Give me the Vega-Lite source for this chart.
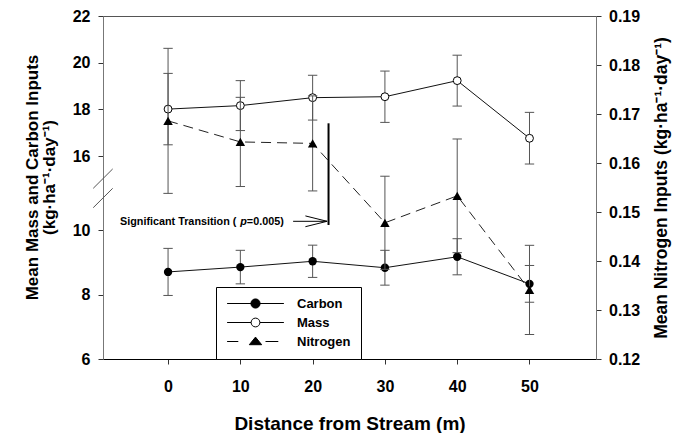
{
"$schema":"https://vega.github.io/schema/vega-lite/v6.json",
"width":493,"height":343,
"autosize":{"type":"none"},
"padding":{"left":103,"top":16,"right":90,"bottom":74},
"background":"white",
"config":{"font":"Liberation Sans","view":{"stroke":"#555","strokeWidth":1},"axis":{"grid":false}},
"datasets":{
 "inputs":[
  {"series":"Carbon","x":0,"y":8.70,"lo":7.97,"hi":9.43},
  {"series":"Carbon","x":10,"y":8.85,"lo":8.33,"hi":9.37},
  {"series":"Carbon","x":20,"y":9.03,"lo":8.53,"hi":9.53},
  {"series":"Carbon","x":30,"y":8.83,"lo":8.29,"hi":9.37},
  {"series":"Carbon","x":40,"y":9.17,"lo":8.61,"hi":9.73},
  {"series":"Carbon","x":50,"y":8.33,"lo":7.76,"hi":8.90},
  {"series":"Mass","x":0,"y":18.01,"lo":16.48,"hi":19.54},
  {"series":"Mass","x":10,"y":18.16,"lo":17.09,"hi":19.23},
  {"series":"Mass","x":20,"y":18.50,"lo":17.54,"hi":19.46},
  {"series":"Mass","x":30,"y":18.54,"lo":17.44,"hi":19.64},
  {"series":"Mass","x":40,"y":19.23,"lo":18.14,"hi":20.32},
  {"series":"Mass","x":50,"y":16.76,"lo":15.35,"hi":17.87},
  {"series":"Nitrogen","x":0,"y":0.1686,"lo":0.1538,"hi":0.1834},
  {"series":"Nitrogen","x":10,"y":0.1643,"lo":0.1552,"hi":0.1734},
  {"series":"Nitrogen","x":20,"y":0.1640,"lo":0.1543,"hi":0.1737},
  {"series":"Nitrogen","x":30,"y":0.1478,"lo":0.1383,"hi":0.1573},
  {"series":"Nitrogen","x":40,"y":0.1533,"lo":0.1417,"hi":0.1649},
  {"series":"Nitrogen","x":50,"y":0.1341,"lo":0.1250,"hi":0.1432}
 ],
 "breaks":[{"x":-10.35,"y":13.38,"x2":-7.66,"y2":14.95},{"x":-10.35,"y":11.81,"x2":-7.66,"y2":13.38}],
 "transition":[{"x":22.2,"y":0.1681,"y2":0.14735}],
 "arrow":[{"x":17.3,"y":0.1481,"x2":22.0,"y2":0.1481},{"x":19.0,"y":0.1492,"x2":22.0,"y2":0.1481},{"x":19.0,"y":0.1470,"x2":22.0,"y2":0.1481}],
 "note":[{"text":"Significant Transition (","x":-6.65,"y":0.1480},{"text":"=0.005)","x":10.9,"y":0.1480}],
 "noteItalic":[{"text":"p","x":9.97,"y":0.1480}]
},
"encoding":{"x":{"field":"x","type":"quantitative","scale":{"domain":[-9,59.2],"nice":false,"zero":false},
  "axis":{"values":[0,10,20,30,40,50],"title":"Distance from Stream (m)","titleFontSize":19,"titleFontWeight":"bold","titleColor":"black","titleBaseline":"middle","titleY":64,"labelFontSize":16,"labelFontWeight":"bold","labelColor":"black","labelPadding":14,"tickSize":5,"tickColor":"#333","domainColor":"black","labelFlush":false}}},
"layer":[
 {
  "data":{"name":"inputs"},
  "transform":[{"filter":"datum.series !== 'Nitrogen'"}],
  "layer":[
   {"data":{"name":"breaks"},"mark":{"type":"rule","color":"#555","strokeWidth":1},
    "encoding":{"x2":{"field":"x2"},"y":{"field":"y","type":"quantitative","scale":{"domain":[6,10,16,22],"range":[343,214,140,0],"nice":false,"zero":false},
      "axis":{"values":[6,8,10,16,18,20,22],"title":["Mean Mass and Carbon Inputs","(kg·ha⁻¹·day⁻¹)"],"titleFontSize":17,"titleFontWeight":"bold","titleColor":"black","titleLineHeight":17,"titleAngle":270,"titleBaseline":"middle","titleX":-70.5,"titleY":161,"labelFontSize":16,"labelFontWeight":"bold","labelColor":"black","labelPadding":8,"tickSize":5,"tickColor":"#333","domainColor":"#777"}},"y2":{"field":"y2"}}},
   {"mark":{"type":"rule","color":"#555","strokeWidth":1},
    "encoding":{"y":{"field":"lo","type":"quantitative","scale":{"domain":[6,10,16,22],"range":[343,214,140,0],"nice":false,"zero":false},
      "axis":{"values":[6,8,10,16,18,20,22],"title":["Mean Mass and Carbon Inputs","(kg·ha⁻¹·day⁻¹)"],"titleFontSize":17,"titleFontWeight":"bold","titleColor":"black","titleLineHeight":17,"titleAngle":270,"titleBaseline":"middle","titleX":-70.5,"titleY":161,"labelFontSize":16,"labelFontWeight":"bold","labelColor":"black","labelPadding":8,"tickSize":5,"tickColor":"#333","domainColor":"#777"}},
     "y2":{"field":"hi"}}},
   {"mark":{"type":"point","shape":"stroke","size":88,"color":"#555","strokeWidth":1,"opacity":1},
    "encoding":{"y":{"field":"lo","type":"quantitative","scale":{"domain":[6,10,16,22],"range":[343,214,140,0],"nice":false,"zero":false}}}},
   {"mark":{"type":"point","shape":"stroke","size":88,"color":"#555","strokeWidth":1,"opacity":1},
    "encoding":{"y":{"field":"hi","type":"quantitative","scale":{"domain":[6,10,16,22],"range":[343,214,140,0],"nice":false,"zero":false}}}},
   {"mark":{"type":"line","color":"#111","strokeWidth":1},
    "encoding":{"y":{"field":"y","type":"quantitative","scale":{"domain":[6,10,16,22],"range":[343,214,140,0],"nice":false,"zero":false}},"detail":{"field":"series"}}},
   {"transform":[{"filter":"datum.series === 'Carbon'"}],
    "mark":{"type":"point","shape":"circle","filled":true,"color":"black","size":70,"opacity":1},
    "encoding":{"y":{"field":"y","type":"quantitative","scale":{"domain":[6,10,16,22],"range":[343,214,140,0],"nice":false,"zero":false}}}},
   {"transform":[{"filter":"datum.series === 'Mass'"}],
    "mark":{"type":"point","shape":"circle","filled":true,"fill":"white","stroke":"black","strokeWidth":1,"size":62,"opacity":1},
    "encoding":{"y":{"field":"y","type":"quantitative","scale":{"domain":[6,10,16,22],"range":[343,214,140,0],"nice":false,"zero":false}}}},
   {"mark":{"type":"point","filled":true,"stroke":"black","strokeWidth":1,"size":64,"opacity":0},
    "encoding":{"y":{"field":"y","type":"quantitative","scale":{"domain":[6,10,16,22],"range":[343,214,140,0],"nice":false,"zero":false}},
     "shape":{"field":"series","type":"nominal","scale":{"domain":["Carbon","Mass","Nitrogen"],"range":["M-7.1,0L7.1,0M-1.15,0A1.15,1.15,0,1,1,1.15,0A1.15,1.15,0,1,1,-1.15,0Z","M-7.1,0L-1.1,0M1.1,0L7.1,0M-1.1,0A1.1,1.1,0,1,1,1.1,0A1.1,1.1,0,1,1,-1.1,0Z","M-7.1,0L-4.3,0M2.5,0L5.7,0M0,-1.1L1.55,0.8L-1.55,0.8Z"]},
      "legend":{"title":null,"orient":"none","legendX":113,"legendY":271,"strokeColor":"black","fillColor":"white","padding":10,"symbolSize":64,"symbolStrokeWidth":1,"symbolOpacity":1,"symbolOffset":23,"labelOffset":35,"labelFontSize":13,"labelFontWeight":"bold","labelColor":"black","rowPadding":5}},
     "fill":{"field":"series","type":"nominal","scale":{"domain":["Carbon","Mass","Nitrogen"],"range":["black","white","black"]},
      "legend":{"title":null,"orient":"none","legendX":113,"legendY":271,"strokeColor":"black","fillColor":"white","padding":10,"symbolSize":64,"symbolStrokeWidth":1,"symbolOpacity":1,"symbolOffset":23,"labelOffset":35,"labelFontSize":13,"labelFontWeight":"bold","labelColor":"black","rowPadding":5}}}}
  ]
 },
 {
  "data":{"name":"inputs"},
  "transform":[{"filter":"datum.series === 'Nitrogen'"}],
  "layer":[
   {"mark":{"type":"rule","color":"#555","strokeWidth":1},
    "encoding":{"y":{"field":"lo","type":"quantitative","scale":{"domain":[0.12,0.19],"nice":false,"zero":false},
      "axis":{"orient":"right","values":[0.12,0.13,0.14,0.15,0.16,0.17,0.18,0.19],"format":".2f","title":"Mean Nitrogen Inputs (kg·ha⁻¹·day⁻¹)","titleFontSize":17.5,"titleFontWeight":"bold","titleColor":"black","titleAngle":270,"titleBaseline":"middle","titleX":65,"titleY":171.5,"labelFontSize":16,"labelFontWeight":"bold","labelColor":"black","labelPadding":7.5,"tickSize":5,"tickColor":"#333","domainColor":"#777"}},
     "y2":{"field":"hi"}}},
   {"mark":{"type":"point","shape":"stroke","size":88,"color":"#555","strokeWidth":1,"opacity":1},
    "encoding":{"y":{"field":"lo","type":"quantitative","scale":{"domain":[0.12,0.19],"nice":false,"zero":false}}}},
   {"mark":{"type":"point","shape":"stroke","size":88,"color":"#555","strokeWidth":1,"opacity":1},
    "encoding":{"y":{"field":"hi","type":"quantitative","scale":{"domain":[0.12,0.19],"nice":false,"zero":false}}}},
   {"mark":{"type":"line","color":"#222","strokeWidth":1,"strokeDash":[10,6]},
    "encoding":{"y":{"field":"y","type":"quantitative","scale":{"domain":[0.12,0.19],"nice":false,"zero":false}}}},
   {"mark":{"type":"point","shape":"triangle-up","filled":true,"color":"black","size":90,"opacity":1},
    "encoding":{"y":{"field":"y","type":"quantitative","scale":{"domain":[0.12,0.19],"nice":false,"zero":false}}}},
   {"data":{"name":"transition"},"mark":{"type":"rule","color":"black","strokeWidth":2},
    "encoding":{"y":{"field":"y","type":"quantitative","scale":{"domain":[0.12,0.19],"nice":false,"zero":false}},"y2":{"field":"y2"}}},
   {"data":{"name":"arrow"},"mark":{"type":"rule","color":"black","strokeWidth":1},
    "encoding":{"x2":{"field":"x2"},"y":{"field":"y","type":"quantitative","scale":{"domain":[0.12,0.19],"nice":false,"zero":false}},"y2":{"field":"y2"}}},
   {"data":{"name":"note"},"mark":{"type":"text","align":"left","baseline":"middle","fontSize":10.8,"fontWeight":"bold","color":"black"},
    "encoding":{"y":{"field":"y","type":"quantitative","scale":{"domain":[0.12,0.19],"nice":false,"zero":false}},"text":{"field":"text"}}},
   {"data":{"name":"noteItalic"},"mark":{"type":"text","align":"left","baseline":"middle","fontSize":10.8,"fontWeight":"bold","fontStyle":"italic","color":"black"},
    "encoding":{"y":{"field":"y","type":"quantitative","scale":{"domain":[0.12,0.19],"nice":false,"zero":false}},"text":{"field":"text"}}}
  ]
 }
],
"resolve":{"scale":{"y":"independent"}}
}
